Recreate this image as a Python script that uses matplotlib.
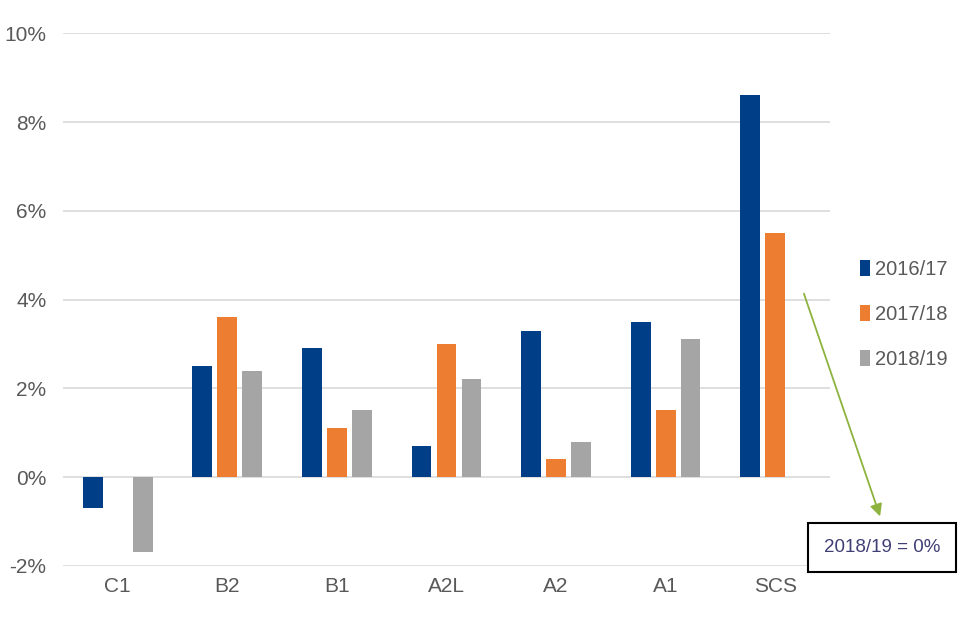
import matplotlib
matplotlib.use("Agg")
import matplotlib.pyplot as plt
import numpy as np
from matplotlib.ticker import FuncFormatter

categories = ["C1", "B2", "B1", "A2L", "A2", "A1", "SCS"]
series_names = ["2016/17", "2017/18", "2018/19"]
v1617 = [-0.7, 2.5, 2.9, 0.7, 3.3, 3.5, 8.6]
v1718 = [0.0, 3.6, 1.1, 3.0, 0.4, 1.5, 5.5]
v1819 = [-1.7, 2.4, 1.5, 2.2, 0.8, 3.1, 0.0]
colors = ["#003F87", "#ED7D31", "#A5A5A5"]

plt.rcParams['font.family'] = ['Liberation Sans', 'DejaVu Sans']

fig = plt.figure(figsize=(9.6, 6.4), dpi=100)
ax = fig.add_axes([0.0656, 0.116, 0.799, 0.832])

x = np.arange(len(categories))
w = 0.18
off = 0.228
for i, (vals, name, c) in enumerate(zip([v1617, v1718, v1819], series_names, colors)):
    ax.bar(x + (i - 1) * off, vals, width=w, color=c, label=name, zorder=3)

ax.set_xlim(-0.5, len(categories) - 0.5)
ax.set_ylim(-2, 10)
ax.set_yticks(np.arange(-2, 11, 2))
ax.yaxis.set_major_formatter(FuncFormatter(lambda v, p: f"{int(v)}%"))
ax.set_xticks(x)
ax.set_xticklabels(categories)
ax.grid(axis='y', color='#D9D9D9', linewidth=1.2, zorder=0)
for s in ax.spines.values():
    s.set_visible(False)
ax.tick_params(length=0, labelsize=15, labelcolor='#595959', pad=8)
ax.tick_params(axis='y', pad=12)

leg = fig.legend(loc='upper left', bbox_to_anchor=(0.896, 0.594), frameon=False,
                 fontsize=14.5, handlelength=0.5, handleheight=0.8, handletextpad=0.25,
                 labelspacing=1.3, labelcolor='#595959', borderpad=0, borderaxespad=0)

fig.text(0.9185, 0.144, "2018/19 = 0%", ha='center', va='center', fontsize=13.5,
         color='#3F3F76',
         bbox=dict(boxstyle='square,pad=0.85', facecolor='white', edgecolor='black', linewidth=1.5))
fig.patches.append(matplotlib.patches.FancyArrowPatch(
    (803 / 960, 1 - 291 / 640), (881 / 960, 1 - 519 / 640), transform=fig.transFigure,
    arrowstyle='-|>', mutation_scale=18, color='#8DB33E', linewidth=1.3, zorder=5))

fig.savefig("out.png", dpi=100)
